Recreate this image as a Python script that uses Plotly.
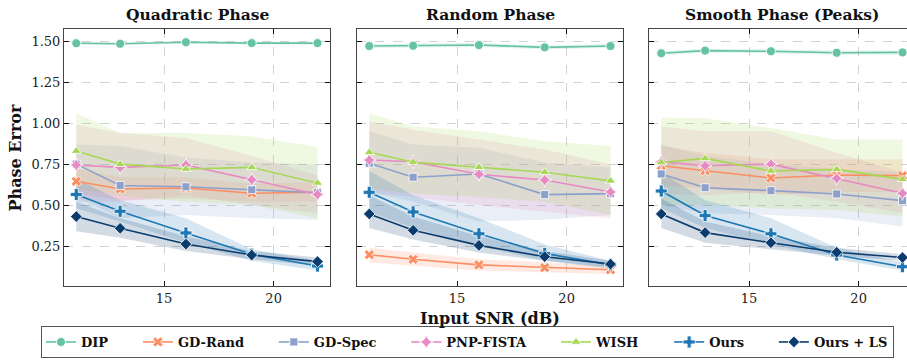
import plotly.graph_objects as go

W, H = 907, 360
snr = [11, 13, 16, 19, 22]
methods = ["DIP", "GD-Rand", "GD-Spec", "PNP-FISTA", "WISH", "Ours", "Ours + LS"]
panel_titles = ["Quadratic Phase", "Random Phase", "Smooth Phase (Peaks)"]
y_ticks = [0.25, 0.50, 0.75, 1.00, 1.25, 1.50]
x_ticks = [15, 20]

# ---- Quadratic phase: mean, lower, upper ----
quad_mean = {
    "DIP":       [1.488, 1.485, 1.494, 1.489, 1.489],
    "GD-Rand":   [0.645, 0.598, 0.604, 0.572, 0.578],
    "GD-Spec":   [0.750, 0.620, 0.612, 0.594, 0.575],
    "PNP-FISTA": [0.745, 0.730, 0.745, 0.655, 0.565],
    "WISH":      [0.830, 0.750, 0.720, 0.730, 0.635],
    "Ours":      [0.565, 0.462, 0.330, 0.200, 0.128],
    "Ours + LS": [0.430, 0.358, 0.262, 0.195, 0.155],
}
quad_lo = {
    "DIP":       [1.480, 1.477, 1.486, 1.481, 1.481],
    "GD-Rand":   [0.570, 0.530, 0.540, 0.520, 0.520],
    "GD-Spec":   [0.550, 0.420, 0.440, 0.420, 0.410],
    "PNP-FISTA": [0.520, 0.520, 0.560, 0.500, 0.450],
    "WISH":      [0.600, 0.560, 0.520, 0.500, 0.420],
    "Ours":      [0.480, 0.400, 0.270, 0.160, 0.100],
    "Ours + LS": [0.340, 0.300, 0.220, 0.170, 0.130],
}
quad_hi = {
    "DIP":       [1.496, 1.493, 1.502, 1.497, 1.497],
    "GD-Rand":   [0.720, 0.670, 0.670, 0.630, 0.640],
    "GD-Spec":   [0.870, 0.860, 0.790, 0.760, 0.750],
    "PNP-FISTA": [0.990, 0.940, 0.910, 0.800, 0.680],
    "WISH":      [1.060, 0.940, 0.940, 0.920, 0.855],
    "Ours":      [0.660, 0.530, 0.420, 0.230, 0.160],
    "Ours + LS": [0.520, 0.420, 0.310, 0.220, 0.180],
}

# ---- Random phase ----
rand_mean = {
    "DIP":       [1.471, 1.473, 1.477, 1.463, 1.471],
    "GD-Rand":   [0.197, 0.169, 0.135, 0.118, 0.105],
    "GD-Spec":   [0.755, 0.670, 0.690, 0.564, 0.570],
    "PNP-FISTA": [0.775, 0.765, 0.688, 0.653, 0.580],
    "WISH":      [0.822, 0.762, 0.731, 0.700, 0.648],
    "Ours":      [0.578, 0.458, 0.325, 0.205, 0.135],
    "Ours + LS": [0.446, 0.346, 0.254, 0.185, 0.140],
}
rand_lo = {
    "DIP":       [1.459, 1.461, 1.465, 1.451, 1.459],
    "GD-Rand":   [0.150, 0.130, 0.100, 0.090, 0.080],
    "GD-Spec":   [0.580, 0.520, 0.400, 0.410, 0.440],
    "PNP-FISTA": [0.580, 0.550, 0.500, 0.460, 0.420],
    "WISH":      [0.600, 0.570, 0.550, 0.520, 0.440],
    "Ours":      [0.460, 0.360, 0.250, 0.160, 0.110],
    "Ours + LS": [0.360, 0.290, 0.210, 0.160, 0.120],
}
rand_hi = {
    "DIP":       [1.483, 1.485, 1.489, 1.475, 1.483],
    "GD-Rand":   [0.240, 0.210, 0.170, 0.150, 0.130],
    "GD-Spec":   [0.950, 0.870, 0.850, 0.760, 0.730],
    "PNP-FISTA": [1.010, 0.960, 0.900, 0.840, 0.750],
    "WISH":      [1.060, 0.980, 0.950, 0.890, 0.860],
    "Ours":      [0.710, 0.560, 0.420, 0.260, 0.160],
    "Ours + LS": [0.560, 0.430, 0.310, 0.220, 0.160],
}

# ---- Smooth phase (peaks) ----
smooth_mean = {
    "DIP":       [1.427, 1.443, 1.439, 1.430, 1.432],
    "GD-Rand":   [0.740, 0.710, 0.665, 0.684, 0.680],
    "GD-Spec":   [0.690, 0.606, 0.588, 0.568, 0.527],
    "PNP-FISTA": [0.765, 0.740, 0.750, 0.663, 0.572],
    "WISH":      [0.760, 0.785, 0.708, 0.718, 0.657],
    "Ours":      [0.586, 0.436, 0.325, 0.195, 0.124],
    "Ours + LS": [0.446, 0.332, 0.270, 0.212, 0.180],
}
smooth_lo = {
    "DIP":       [1.415, 1.431, 1.427, 1.418, 1.420],
    "GD-Rand":   [0.620, 0.600, 0.560, 0.580, 0.580],
    "GD-Spec":   [0.500, 0.450, 0.440, 0.420, 0.370],
    "PNP-FISTA": [0.570, 0.560, 0.580, 0.520, 0.450],
    "WISH":      [0.500, 0.500, 0.480, 0.470, 0.430],
    "Ours":      [0.480, 0.360, 0.260, 0.170, 0.100],
    "Ours + LS": [0.360, 0.270, 0.230, 0.190, 0.160],
}
smooth_hi = {
    "DIP":       [1.439, 1.455, 1.451, 1.442, 1.444],
    "GD-Rand":   [0.860, 0.820, 0.780, 0.780, 0.780],
    "GD-Spec":   [0.870, 0.800, 0.750, 0.720, 0.700],
    "PNP-FISTA": [0.980, 0.950, 0.950, 0.820, 0.700],
    "WISH":      [1.035, 1.030, 0.970, 0.900, 0.900],
    "Ours":      [0.700, 0.530, 0.420, 0.240, 0.150],
    "Ours + LS": [0.540, 0.400, 0.310, 0.240, 0.200],
}

panels = [(quad_mean, quad_lo, quad_hi), (rand_mean, rand_lo, rand_hi),
          (smooth_mean, smooth_lo, smooth_hi)]

colors = {
    "DIP": (102, 194, 165), "GD-Rand": (252, 141, 98), "GD-Spec": (141, 160, 203),
    "PNP-FISTA": (231, 138, 195), "WISH": (166, 216, 84),
    "Ours": (31, 119, 180), "Ours + LS": (11, 60, 110),
}
symbols = {
    "DIP": "circle", "GD-Rand": "x", "GD-Spec": "square", "PNP-FISTA": "star-diamond",
    "WISH": "triangle-up", "Ours": "cross", "Ours + LS": "diamond",
}
msize = {"DIP": 9, "GD-Rand": 9, "GD-Spec": 8, "PNP-FISTA": 10, "WISH": 9,
         "Ours": 10, "Ours + LS": 9}

FONT = "DejaVu Serif"
fig = go.Figure()

# panel pixel geometry
x_left = [64, 357, 649]
pw = 266
top, bot = 29, 286
xr = [10.44, 22.57]

for i, (mean, lo, hi) in enumerate(panels):
    ax = "" if i == 0 else str(i + 1)
    for m in methods:
        r, g, b = colors[m]
        fig.add_trace(go.Scatter(x=snr, y=hi[m], mode="lines", line=dict(width=0),
                                 hoverinfo="skip", showlegend=False,
                                 xaxis="x" + ax, yaxis="y" + ax))
        fig.add_trace(go.Scatter(x=snr, y=lo[m], mode="lines", line=dict(width=0),
                                 fill="tonexty", fillcolor=f"rgba({r},{g},{b},0.18)",
                                 hoverinfo="skip", showlegend=False,
                                 xaxis="x" + ax, yaxis="y" + ax))
    for k, m in enumerate(methods):
        r, g, b = colors[m]
        pad = "\u00a0" * (6 if k < len(methods) - 1 else 0)
        fig.add_trace(go.Scatter(
            x=snr, y=mean[m], mode="lines+markers",
            name="<b>" + m + "</b>" + pad,
            line=dict(color=f"rgb({r},{g},{b})", width=1.6),
            marker=dict(symbol=symbols[m], size=msize[m], color=f"rgb({r},{g},{b})",
                        line=dict(color="white", width=0.8)),
            showlegend=(i == 0), legendgroup=m,
            xaxis="x" + ax, yaxis="y" + ax))

axis_common = dict(showline=True, linecolor="#444", linewidth=1.1, ticks="inside",
                   ticklen=5, tickwidth=1.4, tickcolor="#111", showgrid=True,
                   gridcolor="#d2d2d2", griddash="dash", gridwidth=0.8, zeroline=False,
                   tickfont=dict(family=FONT, size=13, color="#222"))

layout = {}
for i in range(3):
    ax = "" if i == 0 else str(i + 1)
    x0 = x_left[i] / W
    x1 = min((x_left[i] + pw) / W, 1.0)
    rng = xr if i < 2 else [10.44, 10.44 + (W - x_left[i]) * (xr[1] - xr[0]) / pw]
    layout["xaxis" + ax] = dict(axis_common, domain=[x0, x1], range=rng,
                                tickvals=x_ticks, mirror="allticks",
                                anchor="y" + ax)
    layout["yaxis" + ax] = dict(axis_common, domain=[1 - bot / H, 1 - top / H],
                                range=[0.006, 1.575], tickvals=y_ticks,
                                ticktext=[f"{v:.2f}" for v in y_ticks],
                                showticklabels=(i == 0),
                                mirror=("allticks" if i < 2 else False),
                                anchor="x" + ax)

annotations = []
for i, t in enumerate(panel_titles):
    cx = (x_left[i] + pw / 2) / W
    annotations.append(dict(text=f"<b>{t}</b>", x=cx, y=1 - 15 / H, xref="paper",
                            yref="paper", showarrow=False, xanchor="center",
                            yanchor="middle", font=dict(family=FONT, size=15.5, color="#111")))
annotations.append(dict(text="<b>Phase Error</b>", x=15 / W, y=1 - 157.5 / H,
                        xref="paper", yref="paper", showarrow=False, textangle=-90,
                        xanchor="center", yanchor="middle",
                        font=dict(family=FONT, size=16, color="#111")))
annotations.append(dict(text="<b>Input SNR (dB)</b>", x=(357 + pw / 2) / W,
                        y=1 - 318 / H, xref="paper", yref="paper", showarrow=False,
                        xanchor="center", yanchor="middle",
                        font=dict(family=FONT, size=16, color="#111")))

fig.update_layout(
    width=W, height=H, margin=dict(l=0, r=0, t=0, b=0),
    plot_bgcolor="white", paper_bgcolor="white",
    annotations=annotations,
    legend=dict(orientation="h", x=467.5 / W, y=2 / H, xanchor="center",
                yanchor="bottom", bordercolor="#555", borderwidth=1, bgcolor="white",
                font=dict(family=FONT, size=13, color="#111"), itemwidth=30,
                tracegroupgap=0),
    **layout,
)

fig.write_html("out.html")
